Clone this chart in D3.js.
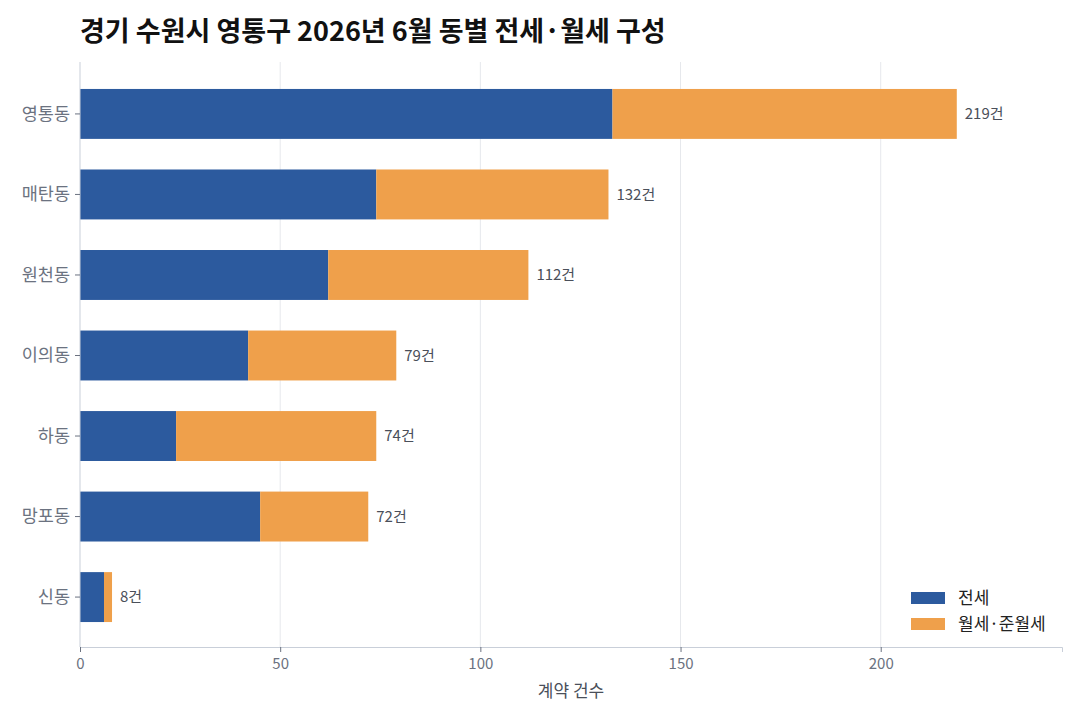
<!DOCTYPE html>
<html>
<head>
<meta charset="utf-8">
<script src="https://cdn.jsdelivr.net/npm/d3@7"></script>
<style>
  body { margin: 0; background: #fff; }
  text { font-family: "Noto Sans CJK KR", "Noto Sans", sans-serif; }
</style>
</head>
<body>
<svg></svg>
<script>
const width = 1080;
const height = 720;

// data
const dongs = ["영통동", "매탄동", "원천동", "이의동", "하동", "망포동", "신동"];
const jeonse = [133, 74, 62, 42, 24, 45, 6];
const wolse = [86, 58, 50, 37, 50, 27, 2];
const seriesNames = ["전세", "월세·준월세"];
const colors = ["#2c5a9e", "#efa04b"];
const xTicks = [0, 50, 100, 150, 200];

const margin = { top: 64, right: 18, bottom: 73, left: 80 };

const svg = d3.select("svg")
    .attr("width", width)
    .attr("height", height);

const rows = dongs.map((d, i) => ({ dong: d, jeonse: jeonse[i], wolse: wolse[i], total: jeonse[i] + wolse[i] }));

const x = d3.scaleLinear()
    .domain([0, d3.max(rows, d => d.total) * 1.12])
    .range([margin.left, width - margin.right]);

const y = d3.scaleBand()
    .domain(dongs)
    .range([margin.top, height - margin.bottom])
    .paddingInner(0.38)
    .paddingOuter(0.31);

// grid
svg.append("g")
    .selectAll("line")
    .data(xTicks.slice(1))
    .enter().append("line")
    .attr("x1", d => x(d)).attr("x2", d => x(d))
    .attr("y1", margin.top - 2).attr("y2", height - margin.bottom)
    .attr("stroke", "#e6e8ec")
    .attr("stroke-width", 1);

// stacked bars
const stack = d3.stack().keys(["jeonse", "wolse"]);
const layers = stack(rows);

svg.append("g")
    .selectAll("g")
    .data(layers)
    .enter().append("g")
    .attr("fill", (d, i) => colors[i])
    .selectAll("rect")
    .data(d => d)
    .enter().append("rect")
    .attr("x", d => x(d[0]))
    .attr("y", d => y(d.data.dong))
    .attr("width", d => x(d[1]) - x(d[0]))
    .attr("height", y.bandwidth());

// total labels
svg.append("g")
    .selectAll("text")
    .data(rows)
    .enter().append("text")
    .attr("x", d => x(d.total) + 8)
    .attr("y", d => y(d.dong) + y.bandwidth() / 2)
    .attr("dy", "0.35em")
    .attr("font-size", 15)
    .attr("fill", "#4a4f5a")
    .text(d => d.total + "건");

// axes
const xAxis = svg.append("g")
    .attr("transform", `translate(0,${height - margin.bottom})`)
    .call(d3.axisBottom(x).tickValues(xTicks).tickSize(5).tickPadding(6));
xAxis.select(".domain").attr("stroke", "#c9cfd9");
xAxis.selectAll(".tick line").attr("stroke", "#6b7280");
xAxis.selectAll(".tick text").attr("fill", "#6b7280").attr("font-size", 15)
    .style("font-family", "'Noto Sans CJK KR', sans-serif");

const yAxis = svg.append("g")
    .attr("transform", `translate(${margin.left},0)`)
    .call(d3.axisLeft(y).tickSize(5).tickPadding(5).tickSizeOuter(0));
yAxis.select(".domain").attr("stroke", "#c9cfd9")
    .attr("d", `M0,${margin.top - 2}V${height - margin.bottom}`);
yAxis.selectAll(".tick line").attr("stroke", "#6b7280");
yAxis.selectAll(".tick text").attr("fill", "#6b7280").attr("font-size", 17.5)
    .style("font-family", "'Noto Sans CJK KR', sans-serif");

// axis title
svg.append("text")
    .attr("x", (margin.left + width - margin.right) / 2)
    .attr("y", 697)
    .attr("text-anchor", "middle")
    .attr("font-size", 17)
    .attr("fill", "#4a4f5a")
    .text("계약 건수");

// title
svg.append("text")
    .attr("x", 80)
    .attr("y", 41)
    .attr("font-size", 27)
    .attr("font-weight", "bold")
    .attr("fill", "#111")
    .text("경기 수원시 영통구 2026년 6월 동별 전세·월세 구성");

// legend
const legend = svg.append("g")
    .attr("transform", "translate(911,592)");
legend.selectAll("rect")
    .data(seriesNames)
    .enter().append("rect")
    .attr("x", 0)
    .attr("y", (d, i) => i * 26)
    .attr("width", 34)
    .attr("height", 12)
    .attr("fill", (d, i) => colors[i]);
legend.selectAll("text")
    .data(seriesNames)
    .enter().append("text")
    .attr("x", 47)
    .attr("y", (d, i) => i * 26 + 6)
    .attr("dy", "0.35em")
    .attr("font-size", 17)
    .attr("fill", "#222")
    .text(d => d);
</script>
</body>
</html>
